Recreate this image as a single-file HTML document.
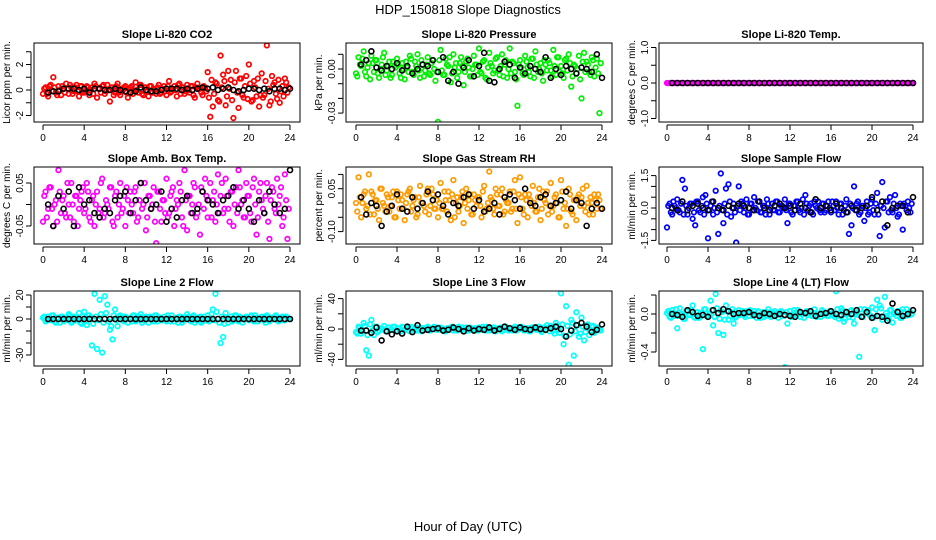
<!DOCTYPE html>
<html><head><meta charset="utf-8"><title>HDP_150818 Slope Diagnostics</title>
<style>
html,body{margin:0;padding:0;background:#fff;}
svg{display:block;font-family:"Liberation Sans",Arial,sans-serif;}
</style></head>
<body>
<svg id="chart" width="936" height="540" viewBox="0 0 936 540" xmlns="http://www.w3.org/2000/svg">
<rect width="936" height="540" fill="#fff"/>
<text x="468" y="14" text-anchor="middle" font-size="13">HDP_150818  Slope Diagnostics</text>
<text x="468" y="531" text-anchor="middle" font-size="13">Hour of Day (UTC)</text>
</svg>
<script>
// ---- data (colored every 0.25 h in two interleaved runs, black every 0.5 h) ----
const xTickLabels = [0,4,8,12,16,20,24];
const co2Vals = [-0.3,0.2,-0.5,0.4,1.0,-0.2,0.3,-0.4,0.1,0.5,-0.3,0.2,-0.1,0.4,-0.5,0.3,
 -0.2,0.3,-0.4,0.2,0.5,-0.6,0.1,0.3,-0.3,0.4,-0.9,0.2,-0.2,0.5,-0.4,0.1,
 0.3,-0.6,0.2,-0.3,0.6,-0.2,0.4,-0.4,0.2,-0.5,0.3,0.1,-0.3,0.4,-0.2,0.3,
 -0.4,0.7,-0.1,0.3,-0.5,0.5,0.2,-0.3,0.4,-0.2,0.3,-0.6,0.5,0.1,-0.4,0.2,
 1.4,-2.1,-1.3,0.6,-0.8,2.7,1.2,-1.2,1.5,0.8,-2.2,1.5,-1.4,0.9,-0.6,1.1,
 2.0,-0.9,0.7,-0.5,-1.3,1.3,-0.4,3.5,-1.2,1.1,0.6,-0.7,-1.0,0.3,0.9,-0.2];
const co2ValsB = [0.1,-0.3,0.3,-0.1,0.2,-0.4,0.0,0.3,-0.2,0.1,0.4,-0.3,0.2,-0.1,0.3,-0.2,
 -0.1,0.2,0.0,-0.3,0.3,0.1,-0.2,0.4,-0.1,0.0,0.2,-0.4,0.3,-0.2,0.1,0.2,
 -0.2,0.1,0.3,-0.1,0.0,0.4,-0.3,0.2,-0.1,0.3,-0.2,0.0,0.2,-0.3,0.1,-0.1,
 0.3,-0.2,0.1,0.0,0.4,-0.3,0.2,-0.1,0.0,0.3,-0.4,0.2,0.1,-0.2,0.3,-0.1,
 -0.6,0.8,-0.3,0.5,-0.9,0.2,0.7,-0.5,0.1,-0.8,0.6,-0.2,0.9,-0.4,0.3,-0.7,
 0.5,-0.8,0.2,0.9,-0.4,-0.6,0.7,0.1,-0.9,0.4,-0.3,0.8,-0.1,-0.5,0.6,0.2];
const co2Black = [-0.2,-0.1,-0.1,0.1,0.1,0.1,0.0,0.1,-0.2,0.1,0.1,0.0,0.0,0.1,0.0,-0.1,-0.2,-0.1,0.2,0.0,-0.1,-0.1,0.0,0.1,0.1,0.1,0.0,0.1,0.0,0.1,0.2,0.1,0.2,0.0,0.1,0.2,0.0,-0.1,0.0,0.1,0.1,0.0,0.1,-0.1,0.1,0.1,0.0,0.1];
const presVals = [-3,8,2,12,-5,4,9,-2,6,-6,3,11,-1,5,-4,2,
 7,-3,4,-7,1,9,-2,5,10,-6,3,-1,8,-4,6,-8,
 -36,13,-4,7,2,-9,10,4,-2,8,-11,5,1,-5,9,3,
 14,-3,6,-7,11,2,-1,8,-4,10,3,-6,14,5,-2,-25,
 6,-3,9,1,-5,7,12,-2,4,-8,3,6,-1,13,-4,8,
 2,-6,7,10,-12,3,-3,9,-20,11,5,-2,8,-5,7,-30];
const presValsB = [-5,3,7,-2,1,-7,4,6,-3,0,8,-4,2,-6,5,1,
 3,-6,0,5,-2,7,-4,2,-1,6,-5,3,-3,4,0,-2,
 6,-1,-4,3,8,-3,1,-6,4,2,-2,7,-5,0,3,-4,
 -2,5,-6,1,4,-3,7,-1,2,-5,6,0,-3,4,-7,3,
 1,-4,5,-2,7,-6,3,0,-3,6,-1,4,-5,2,8,-2,
 -3,6,-1,4,-5,2,0,-7,5,-2,3,-4,6,1,-3,4];
const presBlack = [3,6,12,1,-1,2,0,4,-1,2,-3,0,3,2,6,-2,8,-8,-2,-10,1,6,-5,2,11,-8,-9,0,5,3,-6,1,-3,2,0,-2,8,-6,0,-4,2,0,-3,1,0,-2,10,-6];
const tempVals = [0,0,0,0,0,0,0,0,0,0,0,0,0,0,0,0,0,0,0,0,0,0,0,0,0,0,0,0,0,0,0,0,0,0,0,0,0,0,0,0,0,0,0,0,0,0,0,0,
 0,0,0,0,0,0,0,0,0,0,0,0,0,0,0,0,0,0,0,0,0,0,0,0,0,0,0,0,0,0,0,0,0,0,0,0,0,0,0,0,0,0,0,0,0,0,0,0,0];
const tempValsB = [0,0,0,0,0,0,0,0,0,0,0,0,0,0,0,0,0,0,0,0,0,0,0,0,0,0,0,0,0,0,0,0,0,0,0,0,0,0,0,0,0,0,0,0,0,0,0,0,
 0,0,0,0,0,0,0,0,0,0,0,0,0,0,0,0,0,0,0,0,0,0,0,0,0,0,0,0,0,0,0,0,0,0,0,0,0,0,0,0,0,0,0,0,0,0,0,0];
const tempBlack = [0,0,0,0,0,0,0,0,0,0,0,0,0,0,0,0,0,0,0,0,0,0,0,0,0,0,0,0,0,0,0,0,0,0,0,0,0,0,0,0,0,0,0,0,0,0,0,0];
const ambVals = [-4,3,-1,4,-5,1,8,-2,2,-3,0,5,-4,2,-1,3,
 -2,5,-3,1,-5,3,-1,6,-2,0,4,-4,2,-3,5,-1,
 -5,1,3,-2,4,-3,5,0,-6,2,-1,4,-9,3,-4,1,
 6,-2,3,-5,1,5,-3,8,-6,2,0,4,-2,-7,3,6,
 -3,5,1,-4,7,2,-2,6,-1,3,-5,4,8,0,-3,5,
 2,-4,6,-7,3,1,-2,5,-8,4,-1,6,2,-5,7,-8];
const ambValsB = [2,-3,4,-1,0,-4,3,1,-2,5,-3,0,2,-5,1,4,
 -1,3,-4,2,0,-2,5,-3,1,-1,4,-5,3,0,-2,2,
 4,-2,0,3,-4,1,-1,5,-3,2,0,-4,3,-1,1,-2,
 -3,2,4,-1,0,3,-5,1,2,-2,5,-3,0,4,-1,2,
 1,-3,3,0,-2,5,-1,2,-4,3,0,-2,4,1,-3,2,
 -2,4,0,-3,5,-1,2,-4,1,3,-2,0,4,-3,1,-1];
const ambBlack = [0,-5,2,-1,3,-5,4,0,1,-2,-3,-1,-2,1,2,3,-2,1,5,1,-1,0,3,-4,-1,-3,1,2,-2,-1,3,1,0,-2,1,2,4,-1,1,-1,-4,1,-2,3,0,-2,-1,8];
const rhVals = [0,9,-5,3,-2,10,4,-4,1,-6,5,-1,3,-3,2,-5,
 4,-2,1,-6,3,5,-1,2,-4,6,0,-3,5,-1,3,-2,
 -5,7,-2,1,4,-6,8,0,-3,2,-7,5,1,-4,3,-1,
 2,-5,6,-2,11,1,-4,3,-1,5,-3,0,4,-2,8,-7,
 9,-2,3,-5,1,6,-3,2,-6,4,0,-4,7,-1,3,-5,
 8,-2,-8,5,-3,1,-6,3,2,-1,6,-4,0,3,-2,1];
const rhValsB = [-3,2,0,4,-1,-4,3,1,-2,5,0,-3,2,-1,4,-5,
 1,3,-2,0,4,-3,1,-5,2,0,-1,3,-4,5,-2,1,
 0,-2,4,-3,1,3,-5,2,-1,4,0,-2,3,-4,1,2,
 -1,4,-3,0,2,-2,5,-1,3,-4,1,0,-3,4,-2,3,
 2,-4,1,3,-1,0,-3,5,-2,1,4,-1,-3,2,0,-5,
 4,0,-2,3,-4,1,2,-1,5,-3,0,2,-4,1,3,-2];
const rhBlack = [2,-4,0,-1,-8,-3,-1,3,-2,-3,2,-2,0,4,1,3,-1,-4,0,-1,2,3,-2,1,-3,-2,0,-4,2,3,1,-2,5,0,-1,2,3,-1,0,1,4,-2,1,0,-8,-2,0,-2];
const flowVals = [-0.9,0.2,-0.3,0.1,0.4,-0.2,1.3,0.9,-0.3,0.2,-0.5,-0.8,0.3,-0.2,0.5,0.6,
 -1.4,0.1,-0.3,0.8,-1.2,1.6,-0.7,0.9,1.1,-0.4,0.2,-1.6,1.0,0.3,-0.2,0.4,
 -0.3,0.2,0.5,-0.1,0.3,-0.2,0.1,0.4,-0.3,0.2,-0.1,0.3,-0.2,0.1,0.4,-0.7,
 0.2,-0.3,0.1,0.3,-0.2,0.4,0.6,-0.1,0.2,-0.3,0.1,0.3,-0.2,0.2,-0.1,0.3,
 -0.2,0.1,0.3,-0.3,0.2,-0.1,0.4,-1.2,-0.8,1.0,0.2,-0.3,0.1,-0.6,0.3,-0.2,
 0.4,-0.3,0.7,-1.3,1.2,-0.9,0.3,0.5,-0.2,0.6,-0.4,0.2,-1.0,0.1,0.3,-0.2];
const flowValsB = [0.1,-0.2,0.3,0.0,-0.1,0.2,-0.3,0.1,0.0,0.2,-0.2,0.3,-0.1,0.1,-0.3,0.2,
 -0.1,0.3,0.0,-0.2,0.1,-0.1,0.2,-0.3,0.3,0.0,-0.2,0.1,-0.1,0.2,0.0,-0.3,
 0.2,-0.1,0.0,0.3,-0.2,0.1,-0.3,0.2,0.0,-0.1,0.3,-0.2,0.1,0.0,-0.1,0.2,
 -0.2,0.1,0.3,-0.1,0.0,-0.3,0.2,0.1,-0.2,0.3,0.0,-0.1,0.2,-0.2,0.1,0.0,
 0.3,-0.1,0.0,0.2,-0.3,0.1,-0.2,0.2,0.0,-0.1,0.3,-0.2,0.1,0.0,-0.3,0.2,
 -0.1,0.2,-0.3,0.1,0.0,0.3,-0.2,-0.1,0.2,0.0,-0.3,0.1,0.2,-0.1,0.0,0.2];
const flowBlack = [0,-0.1,0.3,-0.1,0.1,0.2,0,-0.1,0.3,0,-0.1,0.1,0,0.2,0.1,0,-0.1,0.3,0,-0.1,0.1,0.2,0,0.1,-0.1,0.2,0,-0.2,0.4,0,0.1,-0.1,0.2,0,-0.2,0.1,-0.1,0,0.1,0.5,-0.1,0.3,-0.8,0,0.1,0.1,-0.2,0.5];
const l2Vals = [1,-2,2,-1,3,-3,1,2,-2,0,4,-3,2,-1,5,-4,
 6,-5,3,-22,21,-25,16,-28,19,12,-9,-17,8,-6,3,-1,
 2,-3,1,3,-2,0,4,-1,2,-3,1,-2,3,0,-1,2,
 -2,1,3,-2,0,2,-3,1,4,-1,2,-3,1,2,-2,0,
 3,-1,8,21,25,-20,-15,5,-3,2,-1,3,-2,1,0,2,
 -1,3,-2,1,0,2,-1,3,-2,1,2,-1,0,2,-1,1];
const l2ValsB = [2,-1,0,3,-2,1,-3,2,0,-1,3,-2,1,0,-3,2,
 -2,3,1,-4,2,-1,4,-3,5,-2,-6,3,-1,2,0,-2,
 1,0,-2,3,-1,2,-3,1,0,2,-1,3,-2,1,-1,0,
 3,-2,0,1,-3,2,-1,0,2,-2,3,-1,1,-3,2,-1,
 -2,4,-1,6,-3,2,-4,1,0,-2,3,-1,2,-3,1,0,
 2,-1,3,-2,0,1,-3,2,-1,0,3,-2,1,-1,2,0];
const l2Black = [0,0,0,0,0,0,0,0,0,0,0,0,0,0,0,0,0,0,0,0,0,0,0,0,0,0,0,0,0,0,0,0,0,0,0,0,0,0,0,0,0,0,0,0,0,0,0,0];
const l3Vals = [-4,3,-6,8,-28,-35,12,-8,3,-2,0,4,-3,2,-1,3,
 -2,1,3,-1,2,-3,1,0,-2,2,1,-1,3,-2,0,2,
 -1,2,0,-3,1,2,-2,1,3,-1,0,2,-2,1,-1,0,
 2,-1,1,3,-2,0,2,-1,1,-3,2,0,1,-2,3,-1,
 0,2,-1,1,-3,2,0,3,-2,1,-1,2,4,-2,8,-1,
 47,-20,30,-47,12,-35,22,-10,15,-15,5,-8,3,-5,2,-1];
const l3ValsB = [-6,2,-3,4,-8,6,-2,3,-4,1,0,-3,2,-1,3,-2,
 1,-3,2,0,-2,3,-1,2,0,-3,1,2,-2,0,3,-1,
 2,0,-3,1,-1,3,0,-2,1,2,-3,0,2,-1,1,-2,
 0,3,-2,1,-1,2,-3,0,2,-1,3,-2,0,1,-2,2,
 3,-2,1,-3,2,0,-1,3,-4,2,5,-3,2,-6,4,-5,
 6,-9,4,-7,8,-3,5,-6,3,-4,6,-2,4,-3,1,-2];
const l3Black = [-2,-2,-5,2,-15,-3,-7,-3,-6,3,-4,5,-2,-1,0,1,-2,-1,2,0,-3,1,-2,0,-1,2,-2,0,3,1,-1,2,0,-1,2,0,-1,1,3,0,-10,-2,5,8,3,-4,-1,6];
const l4Vals = [1,-3,4,-2,-15,6,0,-5,3,-1,9,-4,2,-3,-37,5,
 -2,14,-12,21,-20,3,-22,9,-6,2,-10,-3,4,0,-1,3,
 -2,1,3,-4,2,0,-3,2,1,-2,3,-1,0,2,-56,-10,
 3,-2,1,4,-3,0,2,-1,3,-2,1,0,-3,2,1,-2,
 3,-1,24,-5,6,-8,2,-3,4,-10,1,-45,-3,5,2,-1,
 7,-17,15,9,-6,18,-2,4,-9,1,3,-4,5,-2,0,2];
const l4ValsB = [3,-4,1,5,-2,0,-5,3,-1,4,-3,2,-4,1,5,-2,
 0,4,-3,6,-5,2,-6,3,-2,5,-4,1,-1,3,-3,2,
 4,-2,0,3,-4,2,-1,5,-3,1,0,-4,3,-2,2,-1,
 -3,4,-1,2,0,-4,3,1,-2,5,-3,0,4,-1,-2,3,
 1,-3,5,-2,4,-5,0,3,-4,2,-1,5,-3,1,4,-2,
 -4,5,-2,6,-3,1,-5,4,0,-2,3,-4,2,5,-1,0];
const l4Black = [0,-1,-3,4,2,-2,-1,-3,4,1,5,3,0,1,1,2,-1,-2,1,0,-2,0,-1,-2,-3,2,1,3,-2,0,1,3,0,-1,2,0,4,-3,2,-4,-2,-3,-7,11,2,-2,0,4];
// tick values (in array units) and their printed labels
const co2Ticks=[-2,-1,0,1,2,3], co2TickLabels=["-2","","0","","2",""];
const presTicks=[-30,-20,-10,0,10], presTickLabels=["-0.03","","","0.00",""];
const tempTicks=[-1,-0.5,0,0.5,1], tempTickLabels=["-1.0","","0.0","","1.0"];
const ambTicks=[-5,0,5], ambTickLabels=["-0.05","","0.05"];
const rhTicks=[-10,-5,0,5,10], rhTickLabels=["-0.10","","","0.05",""];
const flowTicks=[-1.5,-1,-0.5,0,0.5,1,1.5], flowTickLabels=["-1.5","","","0.0","","","1.5"];
const l2Ticks=[-30,-20,-10,0,10,20], l2TickLabels=["-30","","","0","","20"];
const l3Ticks=[-40,-20,0,20,40], l3TickLabels=["-40","","0","","40"];
const l4Ticks=[-40,-20,0,20], l4TickLabels=["-0.4","","0.0",""];

const NS="http://www.w3.org/2000/svg";
const svg=document.getElementById('chart');
function mk(tag,attrs,parent){const e=document.createElementNS(NS,tag);for(const k in attrs)e.setAttribute(k,attrs[k]);(parent||svg).appendChild(e);return e;}

const panels=[
 {name:"co2",title:"Slope Li-820 CO2",ylab:"Licor ppm per min.",L:34,R:300,T:43,B:122,x0:43,x24:290,y0:90,k:12.75,col:"#ff0000",vals:co2Vals,valsB:co2ValsB,blk:co2Black,ticks:co2Ticks,tl:co2TickLabels},
 {name:"pressure",title:"Slope Li-820 Pressure",ylab:"kPa per min.",L:346,R:612,T:43,B:122,x0:356,x24:602,y0:69,k:1.47,col:"#00ee00",vals:presVals,valsB:presValsB,blk:presBlack,ticks:presTicks,tl:presTickLabels},
 {name:"temp",title:"Slope Li-820 Temp.",ylab:"degrees C per min.",L:659,R:923,T:43,B:122,x0:667,x24:913,y0:83,k:35.5,col:"#ff00ff",vals:tempVals,valsB:tempValsB,blk:tempBlack,ticks:tempTicks,tl:tempTickLabels},
 {name:"amb-box-temp",title:"Slope Amb. Box Temp.",ylab:"degrees C per min.",L:34,R:300,T:167,B:244,x0:43,x24:290,y0:204.5,k:4.3,col:"#ff00ff",vals:ambVals,valsB:ambValsB,blk:ambBlack,ticks:ambTicks,tl:ambTickLabels},
 {name:"gas-stream-rh",title:"Slope Gas Stream RH",ylab:"percent per min.",L:346,R:612,T:167,B:244,x0:356,x24:602,y0:203,k:2.86,col:"#ff9a00",vals:rhVals,valsB:rhValsB,blk:rhBlack,ticks:rhTicks,tl:rhTickLabels},
 {name:"sample-flow",title:"Slope Sample Flow",ylab:"ml/min per min.",L:659,R:923,T:167,B:244,x0:667,x24:913,y0:208,k:21.6,col:"#0000ff",vals:flowVals,valsB:flowValsB,blk:flowBlack,ticks:flowTicks,tl:flowTickLabels},
 {name:"line2-flow",title:"Slope Line 2 Flow",ylab:"ml/min per min.",L:34,R:300,T:291,B:366,x0:43,x24:290,y0:319,k:1.2,col:"#00ffff",vals:l2Vals,valsB:l2ValsB,blk:l2Black,ticks:l2Ticks,tl:l2TickLabels},
 {name:"line3-flow",title:"Slope Line 3 Flow",ylab:"ml/min per min.",L:346,R:612,T:291,B:366,x0:356,x24:602,y0:329,k:0.76,col:"#00ffff",vals:l3Vals,valsB:l3ValsB,blk:l3Black,ticks:l3Ticks,tl:l3TickLabels},
 {name:"line4-flow",title:"Slope Line 4 (LT) Flow",ylab:"ml/min per min.",L:659,R:923,T:291,B:366,x0:667,x24:913,y0:314,k:0.95,col:"#00ffff",vals:l4Vals,valsB:l4ValsB,blk:l4Black,ticks:l4Ticks,tl:l4TickLabels}
];

panels.forEach((p,pi)=>{
 const g=mk('g',{});
 
 
 const xs=h=>p.x0+(p.x24-p.x0)*h/24;
 const ys=v=>p.y0-v*p.k;
 const cid='clip'+pi;
 const cp=mk('clipPath',{id:cid},g);
 mk('rect',{x:p.L,y:p.T,width:p.R-p.L,height:p.B-p.T},cp);
 const t=mk('text',{x:(p.L+p.R)/2,y:p.T-5,'text-anchor':'middle','font-size':'11','font-weight':'bold'},g);
 t.textContent=p.title;
 
 
 const yl=mk('text',{x:0,y:0,'text-anchor':'middle','font-size':'10',transform:`translate(${p.L-24},${(p.T+p.B)/2}) rotate(-90)`},g);
 yl.textContent=p.ylab;
 
 
 const pts=mk('g',{'clip-path':`url(#${cid})`},g);
 p.valsB.forEach((v,i)=>{
  const c=mk('circle',{cx:xs(0.125+i*0.25),cy:ys(v),r:2.3,fill:'none',stroke:p.col,'stroke-width':1.7},pts);
  
  
 });
 p.vals.forEach((v,i)=>{
  const c=mk('circle',{cx:xs(i*0.25),cy:ys(v),r:2.3,fill:'none',stroke:p.col,'stroke-width':1.7},pts);
  
  
 });
 p.blk.forEach((v,i)=>{
  const c=mk('circle',{cx:xs(0.5+i*0.5),cy:ys(v),r:2.5,fill:'none',stroke:'#000','stroke-width':1.6},pts);
  
  
 });
 const box=mk('rect',{x:p.L,y:p.T,width:p.R-p.L,height:p.B-p.T,fill:'none',stroke:'#000','stroke-width':1},g);
 
 
 const xa=mk('g',{},g);
 
 
 mk('line',{x1:xs(0),x2:xs(24),y1:p.B+3,y2:p.B+3,stroke:'#000'},xa);
 xTickLabels.forEach(h=>{
  mk('line',{x1:xs(h),x2:xs(h),y1:p.B+3,y2:p.B+8,stroke:'#000'},xa);
  const tx=mk('text',{x:xs(h),y:p.B+19,'text-anchor':'middle','font-size':'10'},xa);
  tx.textContent=h;
 });
 const ya=mk('g',{},g);
 
 
 const tpos=p.ticks.map(ys).filter(y=>y>=p.T-2&&y<=p.B+2);
 mk('line',{x1:p.L-3,x2:p.L-3,y1:Math.min(...tpos),y2:Math.max(...tpos),stroke:'#000'},ya);
 p.ticks.forEach((v,i)=>{
  const y=ys(v); if(y<p.T-2||y>p.B+2) return;
  mk('line',{x1:p.L-8,x2:p.L-3,y1:y,y2:y,stroke:'#000'},ya);
  if(p.tl[i]){
   const tx=mk('text',{x:0,y:0,'text-anchor':'middle','font-size':'10',transform:`translate(${p.L-11},${y}) rotate(-90)`},ya);
   tx.textContent=p.tl[i];
  }
 });
});
</script>
</body></html>
